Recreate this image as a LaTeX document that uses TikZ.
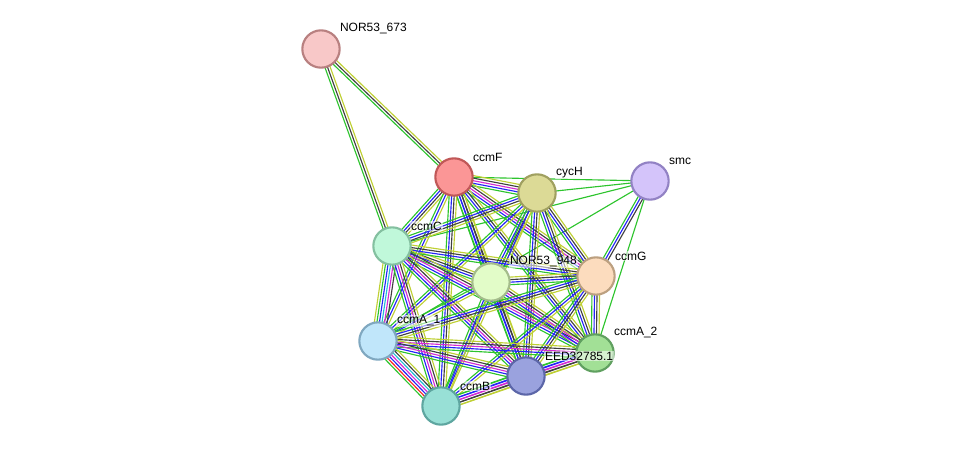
\documentclass[tikz,border=0pt]{standalone}
\usepackage{fontspec}
\setmainfont{Liberation Sans}
\usepackage{tikz}
\usetikzlibrary{calc,backgrounds}
% evidence colours
\definecolor{gr}{HTML}{2DC42D}
\definecolor{bl}{HTML}{2424F8}
\definecolor{bk}{HTML}{404040}
\definecolor{yg}{HTML}{BFD034}
\definecolor{mg}{HTML}{D42AD4}
\definecolor{cy}{HTML}{22BCD6}
\definecolor{rd}{HTML}{F82424}
% node colours
\definecolor{f673}{HTML}{F8C8C8}\definecolor{d673}{HTML}{B88080}
\definecolor{fF}{HTML}{FB9696}\definecolor{dF}{HTML}{C05858}
\definecolor{fH}{HTML}{DCDA96}\definecolor{dH}{HTML}{A0A060}
\definecolor{fS}{HTML}{D4C4FA}\definecolor{dS}{HTML}{9282C4}
\definecolor{fC}{HTML}{C0F8DA}\definecolor{dC}{HTML}{84C0A0}
\definecolor{f948}{HTML}{E2FCC8}\definecolor{d948}{HTML}{A4BC8C}
\definecolor{fG}{HTML}{FCDCBE}\definecolor{dG}{HTML}{BCA080}
\definecolor{fAa}{HTML}{C0E6FA}\definecolor{dAa}{HTML}{80A8C0}
\definecolor{fAb}{HTML}{A2E096}\definecolor{dAb}{HTML}{60A060}
\definecolor{fE}{HTML}{9AA2DE}\definecolor{dE}{HTML}{5C66A8}
\definecolor{fB}{HTML}{98E0D6}\definecolor{dB}{HTML}{5EA6A0}
\tikzset{
  prot/.style={circle, line width=1.6pt, minimum size=28pt, inner sep=0pt},
  lab/.style={anchor=west, font=\fontsize{9}{10}\selectfont, text=black,
    fill=white, fill opacity=0.55, text opacity=1, inner sep=0.6pt},
  lnkline/.style={line width=0.85pt}
}
% one edge = a bundle of parallel lines, one per evidence colour
\newcommand{\lnk}[3]{%
  \foreach \c [count=\i] in {#3}{\xdef\nlines{\i}}
  \foreach \c [count=\i] in {#3}{
    \pgfmathsetmacro\off{(\i-(\nlines+1)/2)*1.9}
    \draw[lnkline, draw=\c] ($(#1.center)!\off pt!90:(#2.center)$) -- ($(#2.center)!\off pt!-90:(#1.center)$);
  }}

\begin{document}
\begin{tikzpicture}[x=0.75pt, y=-0.75pt]
  \useasboundingbox (0,0) rectangle (975,452);

  \node[prot, fill=f673, draw=d673] (nor673) at (321,49) {};
  \node[prot, fill=fF, draw=dF] (ccmF) at (454,177) {};
  \node[prot, fill=fH, draw=dH] (cycH) at (537,193) {};
  \node[prot, fill=fS, draw=dS] (smc) at (650,181) {};
  \node[prot, fill=fC, draw=dC] (ccmC) at (392,246) {};
  \node[prot, fill=f948, draw=d948] (nor948) at (491,282) {};
  \node[prot, fill=fG, draw=dG] (ccmG) at (596,276) {};
  \node[prot, fill=fAa, draw=dAa] (ccmAa) at (378,341) {};
  \node[prot, fill=fAb, draw=dAb] (ccmAb) at (595,353) {};
  \node[prot, fill=fE, draw=dE] (eed) at (526,376) {};
  \node[prot, fill=fB, draw=dB] (ccmB) at (441,406) {};

  \begin{pgfonlayer}{background}
    \lnk{nor673}{ccmF}{gr,bk,yg}
    \lnk{nor673}{ccmC}{gr,bk,yg}
    \lnk{smc}{ccmF}{gr}
    \lnk{smc}{cycH}{gr}
    \lnk{smc}{ccmC}{gr}
    \lnk{smc}{ccmAa}{gr}
    \lnk{smc}{ccmG}{gr,bl,bk}
    \lnk{smc}{ccmAb}{gr}
    \lnk{ccmF}{cycH}{gr,bl,mg,bk,yg}
    \lnk{ccmF}{ccmC}{gr,bl,bk,yg}
    \lnk{ccmF}{nor948}{gr,bl,bk,yg}
    \lnk{ccmF}{ccmG}{gr,bl,mg,bk,yg}
    \lnk{ccmF}{ccmAa}{gr,bl,yg}
    \lnk{ccmF}{ccmAb}{gr,bl,bk,yg}
    \lnk{ccmF}{eed}{gr,bl,bk,yg}
    \lnk{ccmF}{ccmB}{gr,bl,bk,yg}
    \lnk{cycH}{ccmC}{gr,bl,bk,yg}
    \lnk{cycH}{nor948}{gr,bl,bk,yg}
    \lnk{cycH}{ccmG}{gr,bl,bk,yg}
    \lnk{cycH}{ccmAa}{gr,bl,yg}
    \lnk{cycH}{ccmAb}{gr,bl,bk,yg}
    \lnk{cycH}{eed}{gr,bl,bk,yg}
    \lnk{cycH}{ccmB}{gr,bl,yg}
    \lnk{ccmC}{nor948}{gr,bl,bk,yg}
    \lnk{ccmC}{ccmG}{gr,bl,bk,yg}
    \lnk{ccmC}{ccmAa}{yg,gr,bl,cy,mg,bk}
    \lnk{ccmC}{ccmAb}{gr,bl,mg,bk,yg}
    \lnk{ccmC}{eed}{gr,bl,mg,bk,yg}
    \lnk{ccmC}{ccmB}{gr,bl,mg,bk,yg}
    \lnk{nor948}{ccmG}{gr,bl,bk,yg}
    \lnk{nor948}{ccmAa}{gr,bl,yg}
    \lnk{nor948}{ccmAb}{gr,bl,mg,bk,yg}
    \lnk{nor948}{eed}{gr,bl,bk,yg}
    \lnk{nor948}{ccmB}{gr,bl,yg}
    \lnk{ccmG}{ccmAa}{gr,bl,bk,yg}
    \lnk{ccmG}{ccmAb}{gr,bl,bk,yg}
    \lnk{ccmG}{eed}{gr,bl,bk,yg}
    \lnk{ccmG}{ccmB}{gr,bl,yg}
    \lnk{ccmAa}{ccmAb}{gr,bl,mg,bk,yg}
    \lnk{ccmAa}{eed}{gr,bl,mg,bk,yg}
    \lnk{ccmAa}{ccmB}{gr,rd,bl,mg,cy,bk,yg}
    \lnk{ccmAb}{eed}{gr,bl,mg,bk,yg}
    \lnk{ccmAb}{ccmB}{gr,bl,mg,bk,yg}
    \lnk{eed}{ccmB}{gr,bl,mg,bk,yg}
  \end{pgfonlayer}

  \node[lab] (t673) at ($(nor673)+(18,-20)$) {NOR53\_673};
  \node[lab] (tF) at ($(ccmF)+(18,-20)$) {ccmF};
  \node[lab] (tH) at ($(cycH)+(18,-20)$) {cycH};
  \node[lab] (tS) at ($(smc)+(18,-20)$) {smc};
  \node[lab] (tC) at ($(ccmC)+(18,-20)$) {ccmC};
  \node[lab] (t948) at ($(nor948)+(18,-20)$) {NOR53\_948};
  \node[lab] (tG) at ($(ccmG)+(18,-20)$) {ccmG};
  \node[lab] (tAa) at ($(ccmAa)+(18,-20)$) {ccmA\_1};
  \node[lab] (tAb) at ($(ccmAb)+(18,-20)$) {ccmA\_2};
  \node[lab] (tE) at ($(eed)+(18,-20)$) {EED32785.1};
  \node[lab] (tB) at ($(ccmB)+(18,-20)$) {ccmB};
\end{tikzpicture}
\end{document}
